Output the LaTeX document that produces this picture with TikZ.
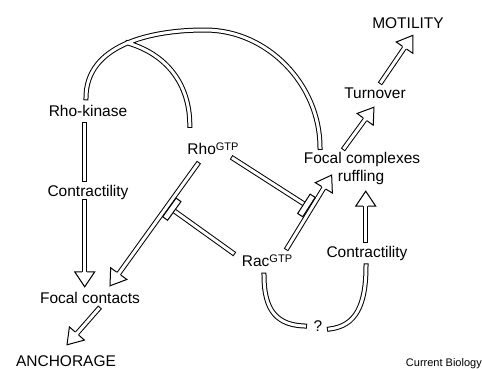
\documentclass[tikz,border=0pt]{standalone}
\usepackage{fontspec}
\setmainfont{Liberation Sans}
\usetikzlibrary{decorations.markings}
\newcommand\gtp{\raisebox{4pt}{\fontsize{11}{11}\selectfont GTP}}
\tikzset{
	lbl/.style={inner sep=0pt,text height=11pt,text depth=3pt,font=\fontsize{15.5}{18}\selectfont},
	dbl/.style={draw,line width=1pt,double=white,double distance=3pt,line cap=rect},
	hollow/.style={dbl,shorten >=15pt,postaction={decorate,decoration={markings,mark=at position 1 with {
		\filldraw[fill=white,line width=1pt,line cap=butt,line join=miter,shorten >=0pt,shorten <=0pt]
		(-15pt,2.5pt)--(-15pt,10pt)--(0pt,0pt)--(-15pt,-10pt)--(-15pt,-2.5pt);}}}},
	blunt/.style={dbl,shorten >=3pt,postaction={decorate,decoration={markings,mark=at position 1 with {
		\filldraw[fill=white,line width=1pt,line cap=butt,shorten >=0pt,shorten <=0pt]
		(-3pt,-11.5pt) rectangle (3pt,11.5pt);}}}}
}
\begin{document}
\begin{tikzpicture}[x=1pt,y=-1pt]
	\useasboundingbox (0,0) rectangle (482,368);
	\node[lbl] (motil) at (408,24) {MOTILITY};
	\node[lbl] (turn) at (375,94) {Turnover};
	\node[lbl] (fcx) at (362,159) {Focal complexes};
	\node[lbl] (ruff) at (361,177) {ruffling};
	\node[lbl] (rhok) at (88,112) {Rho-kinase};
	\node[lbl] (rho) at (213,150) {Rho\gtp};
	\node[lbl] (contrL) at (88,192) {Contractility};
	\node[lbl] (fcon) at (90,299) {Focal contacts};
	\node[lbl] (anch) at (66,362) {ANCHORAGE};
	\node[lbl] (rac) at (267,262) {Rac\gtp};
	\node[lbl] (contrR) at (367,253) {Contractility};
	\node[lbl] (q) at (318,327) {?};
	\node[inner sep=0pt,anchor=base east,font=\fontsize{11}{13}\selectfont] (cb) at (482,366) {Current Biology};
	\path (306.5,205.5) coordinate (teeR) (171.7,209.1) coordinate (teeL);
	\draw[dbl] ([xshift=-2pt,yshift=7pt]rhok.north) .. controls (86,45) and (150,30) .. (205,30) coordinate[pos=0.52] (jn)
		.. controls (268,30) and (320,85) .. ([xshift=-42pt,yshift=4.4pt]fcx.north)
		(jn) .. controls (172,56) and (190,90) .. ([xshift=2.5pt,yshift=17.4pt]rho.north west);
	\draw[dbl] ([xshift=-3.3pt,yshift=-5.4pt]rhok.south)--([xshift=-3.3pt,yshift=5.4pt]contrL.north);
	\draw[dbl] ([xshift=-3pt,yshift=-6pt]rac.south) .. controls (264,312) and (278,325) .. ([xshift=-9pt,yshift=1pt]q.west);
	\draw[dbl] ([xshift=7pt,yshift=-2pt]q.east) .. controls (356,326) and (366,305) .. ([xshift=-1pt,yshift=-5.7pt]contrR.south);
	\draw[hollow] ([xshift=-3.3pt,yshift=-2.5pt]contrL.south)--([xshift=-5.3pt,yshift=5pt]fcon.north);
	\draw[hollow] ([xshift=-15.5pt,yshift=-7pt]rho.south)--([xshift=20pt,yshift=6pt]fcon.north);
	\draw[hollow] ([xshift=8.4pt,yshift=-2.8pt]fcon.south)--([xshift=1pt,yshift=10pt]anch.north);
	\draw[hollow] ([xshift=-5pt,yshift=7pt]rac.north east)--([xshift=-6pt,yshift=2pt]ruff.west);
	\draw[hollow] ([xshift=-17.6pt,yshift=4pt]fcx.north)--([xshift=-1pt,yshift=-6pt]turn.south);
	\draw[hollow] ([xshift=6.3pt,yshift=5pt]turn.north)--([xshift=5pt,yshift=-4pt]motil.south);
	\draw[hollow] ([xshift=-1.3pt,yshift=5.4pt]contrR.north)--([xshift=4.7pt,yshift=-7pt]ruff.south);
	\draw[blunt] ([xshift=-5.5pt,yshift=-1.3pt]rho.south east)--(teeR);
	\draw[blunt] ([xshift=-9pt,yshift=2pt]rac.north west)--(teeL);
\end{tikzpicture}
\end{document}
